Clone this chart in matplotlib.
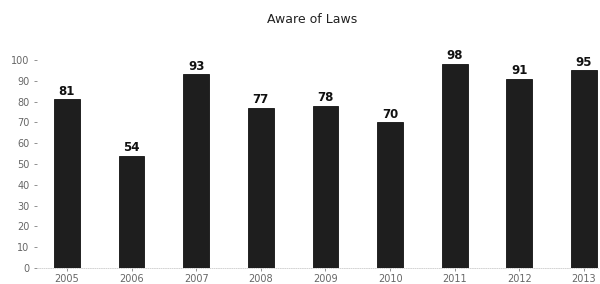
import matplotlib.pyplot as plt

# Data
years = ['2005', '2006', '2007', '2008', '2009', '2010', '2011', '2012', '2013']
aware = [81, 54, 93, 77, 78, 70, 98, 91, 95]

fig = plt.figure(figsize=(6, 2.84), dpi=100)
ax = fig.add_axes([0.062, 0.056, 0.935, 0.733])

x = range(len(years))
bars = ax.bar(x, aware, width=0.4, color='#1e1e1e', edgecolor='#111111', linewidth=0.6)

# Value labels on top of bars
for xi, v in zip(x, aware):
    ax.text(xi, v + 0.8, str(v), ha='center', va='bottom',
            fontsize=8.5, fontweight='bold', color='#111111', clip_on=False)

ax.set_xlim(-0.46, 8.22)
ax.set_ylim(0, 100)
ax.set_yticks(range(0, 101, 10))
ax.set_xticks(list(x))
ax.set_xticklabels(years)
ax.tick_params(axis='both', labelsize=7, colors='#666666', length=2, width=0.5)
ax.tick_params(axis='x', pad=2)

for side in ['top', 'right', 'left']:
    ax.spines[side].set_visible(False)
ax.spines['bottom'].set_color('#cccccc')
ax.spines['bottom'].set_linestyle(':')
ax.spines['bottom'].set_linewidth(0.6)

fig.text(0.52, 0.93, 'Aware of Laws', ha='center', va='center',
         fontsize=9, color='#222222')

fig.savefig('out.png', dpi=100)
